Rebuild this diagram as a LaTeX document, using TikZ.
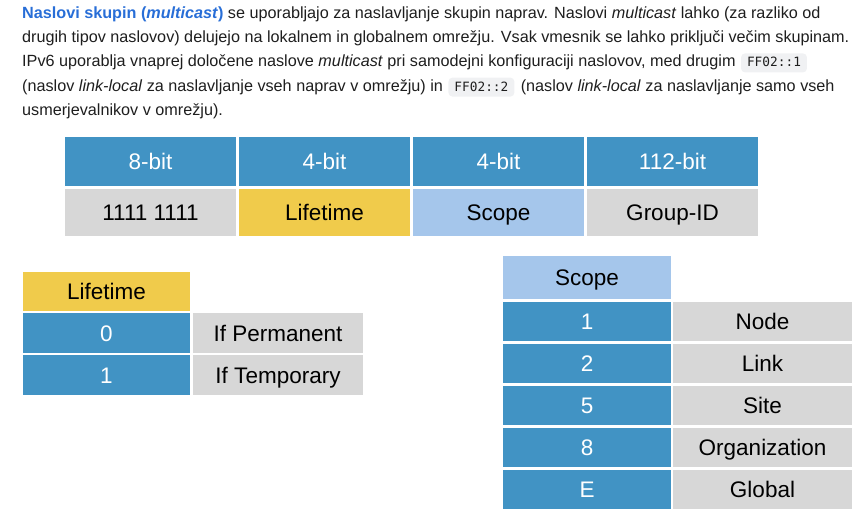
\documentclass[tikz,border=0pt]{standalone}
\usepackage{fontspec}
\setmainfont{Liberation Sans}
\setmonofont{DejaVu Sans Mono}
\usepackage{xcolor}
\definecolor{mcblue}{RGB}{65,147,196}
\definecolor{mcgray}{RGB}{215,215,215}
\definecolor{mcyellow}{RGB}{240,203,75}
\definecolor{mcsky}{RGB}{165,198,235}
\definecolor{mclink}{RGB}{40,110,215}
\definecolor{mccode}{RGB}{240,241,243}
\definecolor{mctext}{RGB}{30,30,30}
\usetikzlibrary{positioning}

\begin{document}
\begin{tikzpicture}[
    x=1pt, y=-1pt,
    cell/.style={rectangle, anchor=north west, inner sep=0pt, outer sep=0pt,
        font=\fontsize{22.5}{27}\selectfont, text height=16pt, text depth=0pt},
    head/.style={cell, fill=mcblue, text=white},
    field/.style={cell, text=black},
    txt/.style={anchor=base west, inner sep=0pt, text=mctext,
        font=\fontsize{16.2}{20}\selectfont},
    code/.style={anchor=base west, fill=mccode, rounded corners=4pt, text=mctext,
        inner xsep=6pt, inner ysep=0pt, text height=13.5pt, text depth=5.5pt,
        font=\ttfamily\fontsize{12.8}{15}\selectfont}
]
\useasboundingbox (0,0) rectangle (864,517);

% Uvodno besedilo
\node[txt] (t1) at (22,18.5) {\textcolor{mclink}{\textbf{Naslovi skupin (\textit{multicast})}} se uporabljajo za naslavljanje skupin naprav. Naslovi \textit{multicast} lahko (za razliko od};
\node[txt] (t2) at (22,42.7) {drugih tipov naslovov) delujejo na lokalnem in globalnem omrežju. Vsak vmesnik se lahko priključi večim skupinam.};
\node[txt] (t3) at (22,66.9) {IPv6 uporablja vnaprej določene naslove \textit{multicast} pri samodejni konfiguraciji naslovov, med drugim};
\node[code] (c1) at ([xshift=5pt]t3.base east) {FF02::1};
\node[txt] (t4) at (22,91.1) {(naslov \textit{link-local} za naslavljanje vseh naprav v omrežju) in};
\node[code] (c2) at ([xshift=5pt]t4.base east) {FF02::2};
\node[txt] (t4b) at ([xshift=6pt]c2.base east) {(naslov \textit{link-local} za naslavljanje samo vseh};
\node[txt] (t5) at (22,115.3) {usmerjevalnikov v omrežju).};

% Zgradba naslova multicast
\foreach \i/\bits/\fld/\col in {0/8-bit/1111 1111/mcgray, 1/4-bit/Lifetime/mcyellow,
    2/4-bit/Scope/mcsky, 3/112-bit/Group-ID/mcgray} {
    \node[head, minimum width=171pt, minimum height=49pt] (bits\i) at (65+174*\i,137) {\bits};
    \node[field, fill=\col, minimum width=171pt, minimum height=47pt] (fld\i) at (65+174*\i,189) {\fld};
}

% Tabela Lifetime
\node[field, fill=mcyellow, minimum width=167pt, minimum height=39pt] (lifehead) at (23,272) {Lifetime};
\foreach \k/\v/\desc in {0/0/If Permanent, 1/1/If Temporary} {
    \node[head, minimum width=167pt, minimum height=40pt] (lifeval\k) at (23,313+42*\k) {\v};
    \node[field, fill=mcgray, minimum width=170pt, minimum height=40pt] (lifedesc\k) at (193,313+42*\k) {\desc};
}

% Tabela Scope
\node[field, fill=mcsky, minimum width=168pt, minimum height=43pt] (scopehead) at (503,256) {Scope};
\foreach \k/\v/\desc in {0/1/Node, 1/2/Link, 2/5/Site, 3/8/Organization, 4/E/Global} {
    \node[head, minimum width=168pt, minimum height=39pt] (scopeval\k) at (503,302+42*\k) {\v};
    \node[field, fill=mcgray, minimum width=179pt, minimum height=39pt] (scopedesc\k) at (673,302+42*\k) {\desc};
}

\end{tikzpicture}
\end{document}
